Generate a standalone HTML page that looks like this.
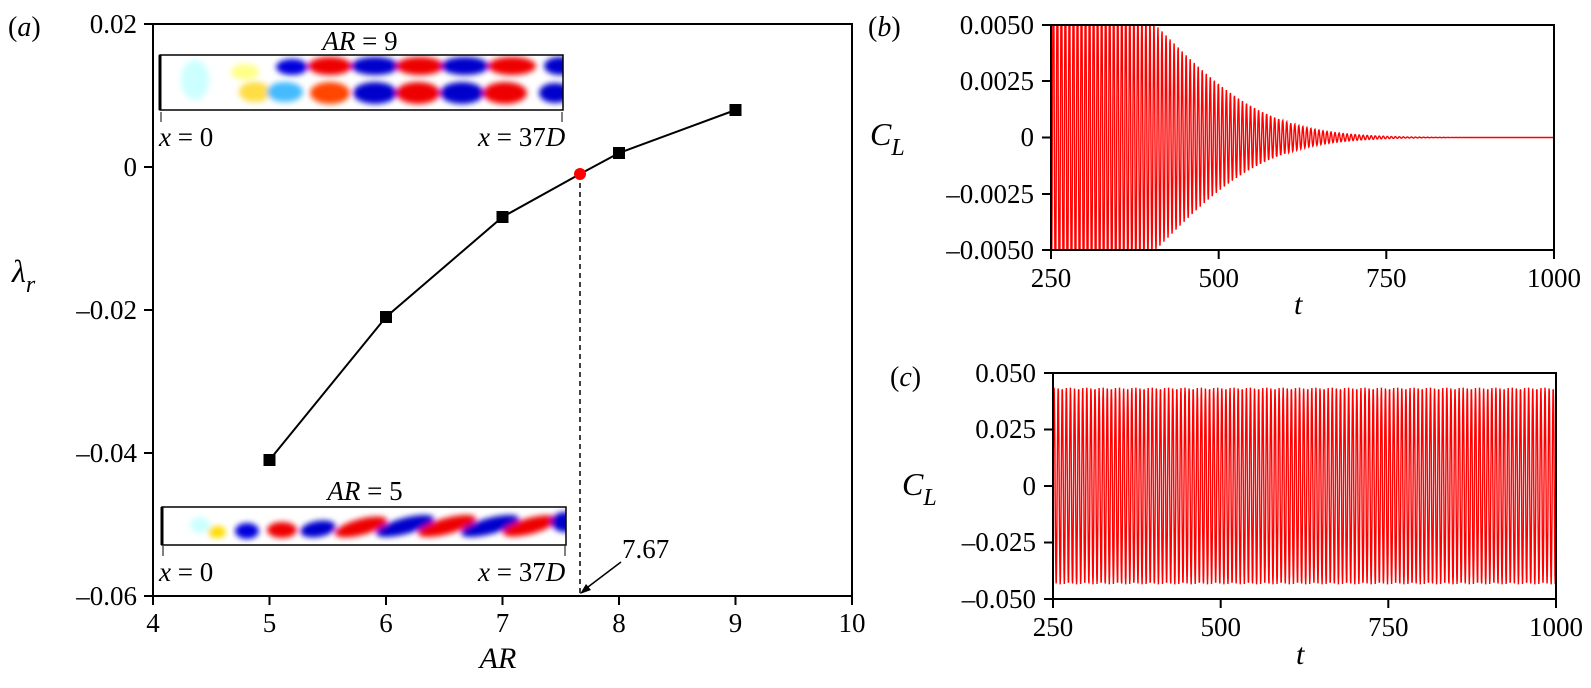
<!DOCTYPE html>
<html><head><meta charset="utf-8"><style>
body{margin:0;background:#fff;}
svg{display:block;}
text{font-family:"Liberation Serif","Times New Roman",serif;font-size:27px;fill:#000;}
.it{font-style:italic;}
</style></head><body>
<svg id="s" width="1591" height="688" viewBox="0 0 1591 688" xmlns="http://www.w3.org/2000/svg" font-family="Liberation Serif, serif">
<defs>
<filter id="bl" x="-20%" y="-50%" width="140%" height="200%"><feGaussianBlur stdDeviation="3"/></filter>
<clipPath id="c9"><rect x="160" y="55" width="403" height="55"/></clipPath>
<clipPath id="c5"><rect x="162" y="507" width="404" height="38"/></clipPath>
<clipPath id="cb"><rect x="1051" y="25" width="503" height="225"/></clipPath>
<clipPath id="cc"><rect x="1053" y="373" width="503" height="226"/></clipPath>
</defs>
<rect x="153" y="24" width="699" height="572" fill="none" stroke="#000" stroke-width="2"/>
<g stroke="#000" stroke-width="2">
<line x1="153" y1="596" x2="153" y2="605"/><line x1="269.5" y1="596" x2="269.5" y2="605"/><line x1="386" y1="596" x2="386" y2="605"/><line x1="502.5" y1="596" x2="502.5" y2="605"/><line x1="619" y1="596" x2="619" y2="605"/><line x1="735.5" y1="596" x2="735.5" y2="605"/><line x1="852" y1="596" x2="852" y2="605"/>
<line x1="144" y1="24" x2="153" y2="24"/><line x1="144" y1="167" x2="153" y2="167"/><line x1="144" y1="310" x2="153" y2="310"/><line x1="144" y1="453" x2="153" y2="453"/><line x1="144" y1="596" x2="153" y2="596"/>
</g>
<g text-anchor="middle">
<text x="153" y="632">4</text><text x="269.5" y="632">5</text><text x="386" y="632">6</text><text x="502.5" y="632">7</text><text x="619" y="632">8</text><text x="735.5" y="632">9</text><text x="852" y="632">10</text>
</g>
<g text-anchor="end">
<text x="137" y="33">0.02</text><text x="137" y="176">0</text><text x="137" y="319">–0.02</text><text x="137" y="462">–0.04</text><text x="137" y="605">–0.06</text>
</g>
<text x="498" y="668" class="it" text-anchor="middle" style="font-size:30px">AR</text>
<text x="12" y="282" class="it" style="font-size:32px">λ<tspan dy="10" style="font-size:24px">r</tspan></text>
<text x="8" y="36" style="font-size:28px">(<tspan class="it">a</tspan>)</text>
<polyline points="269.5,460 386,317 502.5,217 580,174 619,153 735.5,110" fill="none" stroke="#000" stroke-width="2"/>
<line x1="580" y1="174" x2="580" y2="596" stroke="#000" stroke-width="1.5" stroke-dasharray="5,4"/>
<g fill="#000"><rect x="263.5" y="454" width="12" height="12"/><rect x="380" y="311" width="12" height="12"/><rect x="496.5" y="211" width="12" height="12"/><rect x="613" y="147" width="12" height="12"/><rect x="729.5" y="104" width="12" height="12"/></g>
<circle cx="580" cy="174" r="6" fill="#f00"/>
<line x1="621" y1="562" x2="584" y2="590" stroke="#000" stroke-width="1.5"/>
<polygon points="580,594 586,584 591,590" fill="#000"/>
<text x="622" y="558">7.67</text>
<text x="360" y="50" text-anchor="middle"><tspan class="it">AR</tspan> = 9</text>
<rect x="160" y="55" width="403" height="55" fill="#fff"/>
<g clip-path="url(#c9)" filter="url(#bl)">
<ellipse cx="195" cy="80" rx="14" ry="20" fill="#cff"/>
<ellipse cx="245" cy="72" rx="14" ry="8" fill="#ff8"/>
<ellipse cx="255" cy="92" rx="16" ry="10" fill="#fd4"/>
<ellipse cx="285" cy="92" rx="18" ry="10" fill="#4bf"/>
<ellipse cx="292" cy="67" rx="16" ry="8" fill="#00d"/>
<ellipse cx="330" cy="66" rx="22" ry="9" fill="#e00"/>
<ellipse cx="330" cy="93" rx="20" ry="11" fill="#f40"/>
<ellipse cx="375" cy="66" rx="24" ry="9" fill="#00c"/>
<ellipse cx="375" cy="93" rx="22" ry="11" fill="#00c"/>
<ellipse cx="420" cy="66" rx="24" ry="9" fill="#e00"/>
<ellipse cx="418" cy="93" rx="22" ry="11" fill="#e00"/>
<ellipse cx="465" cy="66" rx="24" ry="9" fill="#00c"/>
<ellipse cx="462" cy="93" rx="22" ry="11" fill="#00c"/>
<ellipse cx="512" cy="66" rx="24" ry="9" fill="#e00"/>
<ellipse cx="505" cy="93" rx="22" ry="11" fill="#e00"/>
<ellipse cx="560" cy="66" rx="16" ry="9" fill="#00c"/>
<ellipse cx="555" cy="93" rx="16" ry="10" fill="#00c"/>
</g>
<rect x="160" y="55" width="403" height="55" fill="none" stroke="#000" stroke-width="1.5"/>
<line x1="160" y1="55" x2="160" y2="110" stroke="#000" stroke-width="3"/>
<line x1="161" y1="112" x2="161" y2="122" stroke="#000"/><line x1="562" y1="112" x2="562" y2="122" stroke="#000"/>
<text x="159" y="146" class="it">x<tspan font-style="normal"> = 0</tspan></text>
<text x="478" y="146" class="it">x<tspan font-style="normal"> = 37</tspan>D</text>
<text x="365" y="500" text-anchor="middle"><tspan class="it">AR</tspan> = 5</text>
<rect x="162" y="507" width="404" height="38" fill="#fff"/>
<g clip-path="url(#c5)" filter="url(#bl)">
<ellipse cx="200" cy="525" rx="10" ry="8" fill="#cff"/>
<ellipse cx="217" cy="532" rx="9" ry="6" fill="#fd0"/>
<ellipse cx="247" cy="531" rx="12" ry="8" fill="#00d"/>
<ellipse cx="282" cy="530" rx="15" ry="8" fill="#e00"/>
<ellipse cx="318" cy="529" rx="18" ry="8" fill="#00c" transform="rotate(-10 318 529)"/>
<ellipse cx="361" cy="527" rx="27" ry="8" fill="#e00" transform="rotate(-15 361 527)"/>
<ellipse cx="405" cy="526" rx="30" ry="8" fill="#00c" transform="rotate(-15 405 526)"/>
<ellipse cx="447" cy="526" rx="30" ry="8" fill="#e00" transform="rotate(-15 447 526)"/>
<ellipse cx="490" cy="526" rx="30" ry="8" fill="#00c" transform="rotate(-15 490 526)"/>
<ellipse cx="530" cy="526" rx="28" ry="8" fill="#e00" transform="rotate(-15 530 526)"/>
<ellipse cx="565" cy="522" rx="14" ry="10" fill="#00c"/>
</g>
<rect x="162" y="507" width="404" height="38" fill="none" stroke="#000" stroke-width="1.5"/>
<line x1="162" y1="507" x2="162" y2="545" stroke="#000" stroke-width="3"/>
<line x1="163" y1="546" x2="163" y2="556" stroke="#000"/><line x1="565" y1="546" x2="565" y2="556" stroke="#000"/>
<text x="159" y="581" class="it">x<tspan font-style="normal"> = 0</tspan></text>
<text x="478" y="581" class="it">x<tspan font-style="normal"> = 37</tspan>D</text>
<path id="pb" d="" fill="none" stroke="#f00" stroke-width="1.4" clip-path="url(#cb)"/>
<rect x="1051" y="25" width="503" height="225" fill="none" stroke="#000" stroke-width="2"/>
<g stroke="#000" stroke-width="2">
<line x1="1042" y1="25" x2="1051" y2="25"/><line x1="1042" y1="81" x2="1051" y2="81"/><line x1="1042" y1="137.5" x2="1051" y2="137.5"/><line x1="1042" y1="194" x2="1051" y2="194"/><line x1="1042" y1="250" x2="1051" y2="250"/>
<line x1="1051" y1="250" x2="1051" y2="259"/><line x1="1218.7" y1="250" x2="1218.7" y2="259"/><line x1="1386.3" y1="250" x2="1386.3" y2="259"/><line x1="1554" y1="250" x2="1554" y2="259"/>
</g>
<g text-anchor="end"><text x="1034" y="34">0.0050</text><text x="1034" y="90">0.0025</text><text x="1034" y="146">0</text><text x="1034" y="203">–0.0025</text><text x="1034" y="259">–0.0050</text></g>
<g text-anchor="middle"><text x="1051" y="287">250</text><text x="1218.7" y="287">500</text><text x="1386.3" y="287">750</text><text x="1554" y="287">1000</text></g>
<text x="1294" y="314" class="it" style="font-size:30px">t</text>
<text x="870" y="145" class="it" style="font-size:32px">C<tspan dy="10" style="font-size:24px">L</tspan></text>
<text x="868" y="36" style="font-size:28px">(<tspan class="it">b</tspan>)</text>
<path id="pc" d="" fill="none" stroke="#f00" stroke-width="1.4" clip-path="url(#cc)"/>
<rect x="1053" y="373" width="503" height="226" fill="none" stroke="#000" stroke-width="2"/>
<g stroke="#000" stroke-width="2">
<line x1="1044" y1="373" x2="1053" y2="373"/><line x1="1044" y1="429.5" x2="1053" y2="429.5"/><line x1="1044" y1="486" x2="1053" y2="486"/><line x1="1044" y1="542.5" x2="1053" y2="542.5"/><line x1="1044" y1="599" x2="1053" y2="599"/>
<line x1="1053" y1="599" x2="1053" y2="608"/><line x1="1220.7" y1="599" x2="1220.7" y2="608"/><line x1="1388.3" y1="599" x2="1388.3" y2="608"/><line x1="1556" y1="599" x2="1556" y2="608"/>
</g>
<g text-anchor="end"><text x="1036" y="382">0.050</text><text x="1036" y="438">0.025</text><text x="1036" y="495">0</text><text x="1036" y="551">–0.025</text><text x="1036" y="608">–0.050</text></g>
<g text-anchor="middle"><text x="1053" y="636">250</text><text x="1220.7" y="636">500</text><text x="1388.3" y="636">750</text><text x="1556" y="636">1000</text></g>
<text x="1296" y="664" class="it" style="font-size:30px">t</text>
<text x="902" y="495" class="it" style="font-size:32px">C<tspan dy="10" style="font-size:24px">L</tspan></text>
<text x="890" y="386" style="font-size:28px">(<tspan class="it">c</tspan>)</text>
</svg>
<script>
(function(){
var d="",P=6.0;
for(var t=250;t<=1000;t+=0.4){
 var A=t<270?0.0075:0.0075*Math.exp(-Math.pow((t-270)/215,2));
 var v=A*Math.sin(2*Math.PI*t/P);
 var x=1051+(t-250)*503/750, y=137.5-v*112.5/0.005;
 d+=(d?"L":"M")+x.toFixed(1)+","+y.toFixed(1);
}
document.getElementById("pb").setAttribute("d",d);
d="";
for(var t=250;t<=1000;t+=0.4){
 var v=0.0435*Math.sin(2*Math.PI*t/6.1);
 var x=1053+(t-250)*503/750, y=486-v*113/0.05;
 d+=(d?"L":"M")+x.toFixed(1)+","+y.toFixed(1);
}
document.getElementById("pc").setAttribute("d",d);
})();
</script>
</body></html>
